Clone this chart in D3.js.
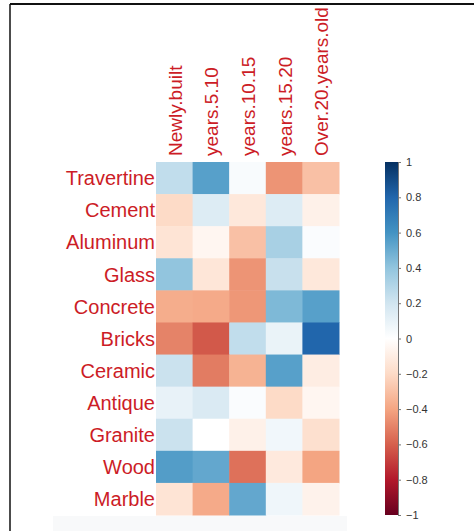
<!DOCTYPE html>
<html>
<head>
<meta charset="utf-8">
<script src="https://cdn.jsdelivr.net/npm/d3@7"></script>
<style>
  body { margin: 0; background: #fff; }
  text { font-family: "Liberation Sans", Arial, sans-serif; }
</style>
</head>
<body>
<script>
const width = 474;
const height = 531;

const materials = ["Travertine", "Cement", "Aluminum", "Glass", "Concrete", "Bricks",
  "Ceramic", "Antique", "Granite", "Wood", "Marble"];
const ages = ["Newly.built", "years.5.10", "years.10.15", "years.15.20", "Over.20.years.old"];

// correlation per material, one value per age column
const travertine = [0.25, 0.55, 0.03, -0.45, -0.3];
const cement     = [-0.2, 0.15, -0.13, 0.15, -0.08];
const aluminum   = [-0.15, -0.05, -0.3, 0.33, 0.02];
const glass      = [0.4, -0.14, -0.45, 0.23, -0.13];
const concrete   = [-0.37, -0.38, -0.44, 0.45, 0.55];
const bricks     = [-0.5, -0.62, 0.25, 0.09, 0.8];
const ceramic    = [0.22, -0.52, -0.35, 0.55, -0.1];
const antique    = [0.1, 0.16, 0.02, -0.2, -0.05];
const granite    = [0.22, 0.0, -0.08, 0.06, -0.17];
const wood       = [0.56, 0.52, -0.55, -0.12, -0.4];
const marble     = [-0.15, -0.38, 0.52, 0.07, -0.07];
const values = [travertine, cement, aluminum, glass, concrete, bricks,
  ceramic, antique, granite, wood, marble];

const legendTicks = [-1, -0.8, -0.6, -0.4, -0.2, 0, 0.2, 0.4, 0.6, 0.8, 1];
const palette = ["#67001F", "#B2182B", "#D6604D", "#F4A582", "#FDDBC7", "#FFFFFF",
  "#D1E5F0", "#92C5DE", "#4393C3", "#2166AC", "#053061"];

const labelColor = "#cc1c26";

const svg = d3.select("body")
  .append("svg")
  .attr("width", width)
  .attr("height", height);

// frame bits from the screenshot
svg.append("rect")
  .attr("x", 53).attr("y", 516)
  .attr("width", 294).attr("height", 15)
  .attr("fill", "#f8f9fa");
svg.append("line")
  .attr("x1", 10).attr("x2", width)
  .attr("y1", 4).attr("y2", 4)
  .attr("stroke", "#111").attr("stroke-width", 2);
svg.append("line")
  .attr("x1", 10).attr("x2", 10)
  .attr("y1", 4).attr("y2", height)
  .attr("stroke", "#111").attr("stroke-width", 1.5);

const grid = { left: 156, right: 339, top: 162, bottom: 515 };

const x = d3.scaleBand()
  .domain(ages)
  .range([grid.left, grid.right]);

const y = d3.scaleBand()
  .domain(materials)
  .range([grid.top, grid.bottom]);

const color = d3.scaleLinear()
  .domain(legendTicks)
  .range(palette)
  .interpolate(d3.interpolateRgb);

const cells = [];
materials.forEach((m, i) => {
  ages.forEach((a, j) => cells.push({ m, a, v: values[i][j] }));
});

svg.append("g")
  .selectAll("rect")
  .data(cells)
  .enter()
  .append("rect")
    .attr("x", d => x(d.a))
    .attr("y", d => y(d.m))
    .attr("width", x.bandwidth() + 0.5)
    .attr("height", y.bandwidth() + 0.5)
    .attr("fill", d => color(d.v));

// row labels
svg.append("g")
  .selectAll("text")
  .data(materials)
  .enter()
  .append("text")
    .attr("x", grid.left - 1)
    .attr("y", d => y(d) + y.bandwidth() / 2)
    .attr("dy", "0.36em")
    .attr("text-anchor", "end")
    .attr("font-size", 20)
    .attr("fill", labelColor)
    .text(d => d);

// column labels
svg.append("g")
  .selectAll("text")
  .data(ages)
  .enter()
  .append("text")
    .attr("transform", d => `translate(${x(d) + x.bandwidth() / 2 + 7.5}, ${grid.top - 6}) rotate(-90)`)
    .attr("text-anchor", "start")
    .attr("font-size", 19)
    .attr("fill", labelColor)
    .text(d => d);

// colour legend
const bar = { x: 385, w: 13 };
const ly = d3.scaleLinear()
  .domain([-1, 1])
  .range([grid.bottom, grid.top]);

const grad = svg.append("defs")
  .append("linearGradient")
  .attr("id", "legend-grad")
  .attr("x1", 0).attr("y1", 1)
  .attr("x2", 0).attr("y2", 0);
grad.selectAll("stop")
  .data(legendTicks)
  .enter()
  .append("stop")
    .attr("offset", d => (d + 1) / 2)
    .attr("stop-color", d => color(d));

svg.append("rect")
  .attr("x", bar.x)
  .attr("y", grid.top)
  .attr("width", bar.w)
  .attr("height", grid.bottom - grid.top)
  .attr("fill", "url(#legend-grad)");

const legendAxis = d3.axisRight(ly)
  .tickValues(legendTicks)
  .tickSize(3)
  .tickSizeOuter(0)
  .tickPadding(5)
  .tickFormat(d => d === 0 ? "0" : String(d).replace("-", "\u2212"));

const lg = svg.append("g")
  .attr("transform", `translate(${bar.x + bar.w}, 0)`)
  .call(legendAxis);
lg.select(".domain").attr("stroke", "#777");
lg.selectAll(".tick line").attr("stroke", "#777");
lg.selectAll(".tick text")
  .attr("fill", "#333")
  .attr("font-size", 11)
  .style("font-family", "'Liberation Sans', Arial, sans-serif");
</script>
</body>
</html>
